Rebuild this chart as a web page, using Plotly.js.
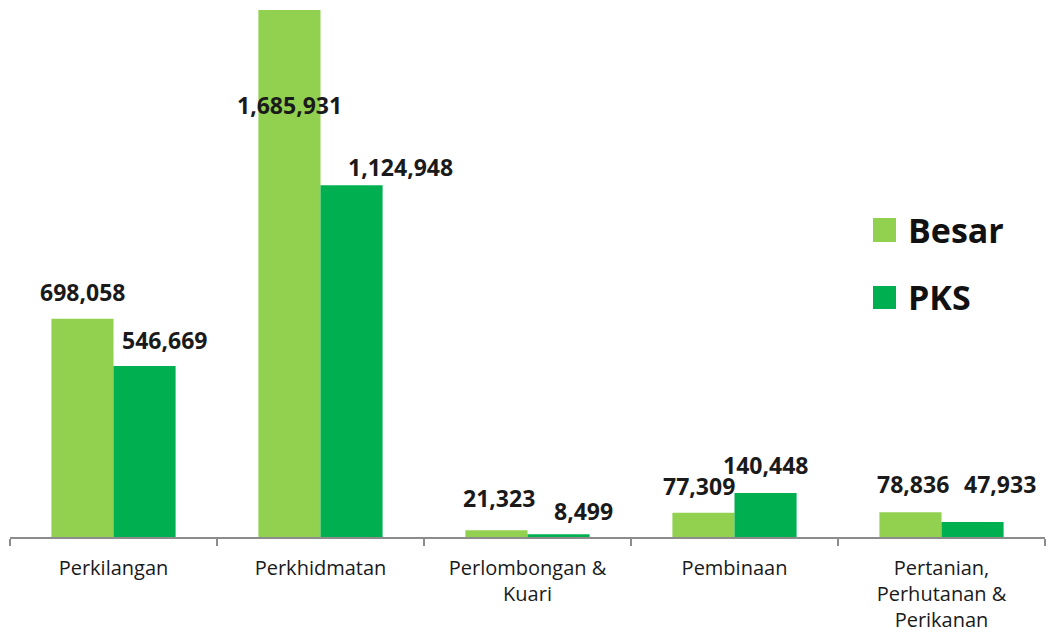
<!DOCTYPE html>
<html>
<head>
<meta charset="utf-8">
<script src="https://cdn.plot.ly/plotly-3.0.1.min.js"></script>
<style>html,body{margin:0;padding:0;background:#fff;}#chart{width:1050px;height:635px;}</style>
</head>
<body>
<div id="chart"></div>
<script>
// Data
const categories = ["Perkilangan", "Perkhidmatan", "Perlombongan &<br>Kuari", "Pembinaan", "Pertanian,<br>Perhutanan &<br>Perikanan"];
const seriesNames = ["Besar", "PKS"];
const besar = [698058, 1685931, 21323, 77309, 78836];
const pks = [546669, 1124948, 8499, 140448, 47933];

// Label offsets (pixels) to mimic original label placement
const besarDx = [0, 0, 3, -4, 3];
const besarDy = [27, -95, 32, 27, 28];
const pksDx = [20, 49, 25, 0, 27];
const pksDy = [26, 18, 23, 28, 38];

const colBesar = "#92D050";
const colPks = "#00B050";
const fmt = v => v.toLocaleString("en-US");

const traces = [
  {type: "bar", name: seriesNames[0], x: categories, y: besar, marker: {color: colBesar}, showlegend: false, hoverinfo: "x+y"},
  {type: "bar", name: seriesNames[1], x: categories, y: pks, marker: {color: colPks}, showlegend: false, hoverinfo: "x+y"}
];

const annFont = {family: "Open Sans, sans-serif", size: 23, color: "#1a1a1a", weight: 700};
const annotations = [];
const groupW = 1 - 0.4; // fraction of category occupied by the group
categories.forEach((c, i) => {
  annotations.push({x: i - groupW / 4, y: besar[i], xref: "x", yref: "y", text: "<b>" + fmt(besar[i]) + "</b>",
    showarrow: false, xanchor: "center", yanchor: "middle", xshift: besarDx[i], yshift: besarDy[i], font: annFont});
  annotations.push({x: i + groupW / 4, y: pks[i], xref: "x", yref: "y", text: "<b>" + fmt(pks[i]) + "</b>",
    showarrow: false, xanchor: "center", yanchor: "middle", xshift: pksDx[i], yshift: pksDy[i], font: annFont});
});

// Custom legend (paper coords)
const W = 1035, H = 527;
const px = p => (p - 10) / W;
const py = p => (537 - p) / H;
const legendFont = {family: "Open Sans, sans-serif", size: 34, color: "#111", weight: 700};
const shapes = [
  {type: "rect", xref: "paper", yref: "paper", x0: px(873), x1: px(896), y0: py(242), y1: py(218), fillcolor: colBesar, line: {width: 0}},
  {type: "rect", xref: "paper", yref: "paper", x0: px(873), x1: px(896), y0: py(309), y1: py(286), fillcolor: colPks, line: {width: 0}}
];
annotations.push({xref: "paper", yref: "paper", x: px(906), y: py(230), text: "<b>" + seriesNames[0] + "</b>", showarrow: false, xanchor: "left", yanchor: "middle", font: legendFont});
annotations.push({xref: "paper", yref: "paper", x: px(906), y: py(297), text: "<b>" + seriesNames[1] + "</b>", showarrow: false, xanchor: "left", yanchor: "middle", font: legendFont});

const layout = {
  width: 1050, height: 635,
  margin: {l: 10, r: 5, t: 10, b: 98},
  paper_bgcolor: "#fff", plot_bgcolor: "#fff",
  barmode: "group", bargap: 0.4, bargroupgap: 0,
  showlegend: false,
  xaxis: {
    type: "category",
    showline: true, linecolor: "#8c8c8c", linewidth: 1.5,
    ticks: "outside", tickson: "boundaries", ticklen: 7, tickcolor: "#8c8c8c", tickwidth: 1.5,
    tickfont: {family: "Open Sans, sans-serif", size: 20, color: "#1a1a1a"},
    ticklabelstandoff: 12,
    showgrid: false, zeroline: false
  },
  yaxis: {
    range: [0, Math.max(...besar, ...pks)],
    visible: false, showgrid: false, zeroline: false
  },
  annotations: annotations,
  shapes: shapes
};

Plotly.newPlot("chart", traces, layout, {displayModeBar: false, staticPlot: true});
</script>
</body>
</html>
